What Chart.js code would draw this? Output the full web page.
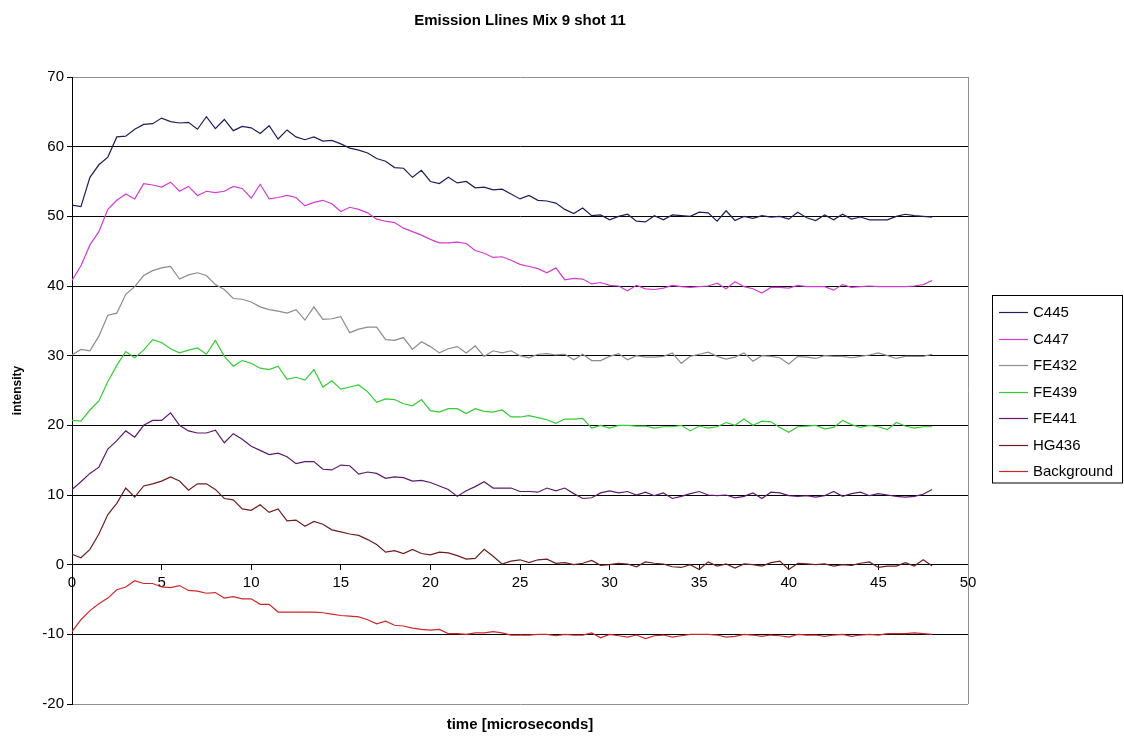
<!DOCTYPE html>
<html>
<head>
<meta charset="utf-8">
<title>Emission Llines Mix 9 shot 11</title>
<script src="https://cdn.jsdelivr.net/npm/chart.js@4.4.1/dist/chart.umd.min.js"></script>
<style>
  html, body { margin: 0; padding: 0; background: #fff; }
</style>
</head>
<body>
<canvas id="line-chart" width="1124" height="744"></canvas>
<script>
// time axis (microseconds)
const times = [
  0, 0.5, 1, 1.5, 2, 2.5, 3, 3.5, 4, 4.5,
  5, 5.5, 6, 6.5, 7, 7.5, 8, 8.5, 9, 9.5,
  10, 10.5, 11, 11.5, 12, 12.5, 13, 13.5, 14, 14.5,
  15, 15.5, 16, 16.5, 17, 17.5, 18, 18.5, 19, 19.5,
  20, 20.5, 21, 21.5, 22, 22.5, 23, 23.5, 24, 24.5,
  25, 25.5, 26, 26.5, 27, 27.5, 28, 28.5, 29, 29.5,
  30, 30.5, 31, 31.5, 32, 32.5, 33, 33.5, 34, 34.5,
  35, 35.5, 36, 36.5, 37, 37.5, 38, 38.5, 39, 39.5,
  40, 40.5, 41, 41.5, 42, 42.5, 43, 43.5, 44, 44.5,
  45, 45.5, 46, 46.5, 47, 47.5, 48
];

const c445 = [
  51.6, 51.4, 55.6, 57.4, 58.5, 61.4, 61.5, 62.5, 63.2, 63.3,
  64.1, 63.6, 63.4, 63.5, 62.5, 64.3, 62.6, 63.9, 62.3, 62.9,
  62.7, 61.9, 63.0, 61.1, 62.4, 61.4, 61.0, 61.4, 60.8, 60.9,
  60.4, 59.8, 59.5, 59.1, 58.3, 57.9, 57.0, 56.9, 55.6, 56.6,
  55.0, 54.7, 55.6, 54.8, 55.0, 54.1, 54.2, 53.8, 53.9, 53.2,
  52.5, 53.0, 52.3, 52.2, 51.9, 51.0, 50.4, 51.2, 50.1, 50.2,
  49.5, 50.0, 50.3, 49.3, 49.2, 50.1, 49.5, 50.2, 50.1, 50.0,
  50.6, 50.5, 49.3, 50.8, 49.4, 50.0, 49.7, 50.1, 49.9, 50.0,
  49.6, 50.6, 49.8, 49.4, 50.2, 49.5, 50.3, 49.6, 49.9, 49.5,
  49.5, 49.5, 50.0, 50.3, 50.1, 50.0, 49.9
];

const c447 = [
  40.8, 42.9, 45.9, 47.8, 51.0, 52.3, 53.2, 52.5, 54.7, 54.5,
  54.2, 54.9, 53.6, 54.3, 53.0, 53.6, 53.4, 53.6, 54.3, 54.0,
  52.6, 54.6, 52.5, 52.7, 53.0, 52.7, 51.5, 52.0, 52.3, 51.8,
  50.7, 51.3, 51.0, 50.5, 49.6, 49.3, 49.1, 48.3, 47.8, 47.3,
  46.7, 46.2, 46.2, 46.3, 46.1, 45.1, 44.7, 44.1, 44.2, 43.7,
  43.1, 42.8, 42.5, 41.9, 42.6, 40.9, 41.1, 41.0, 40.3, 40.5,
  40.1, 40.0, 39.3, 40.1, 39.6, 39.5, 39.7, 40.1, 39.9, 39.8,
  39.9, 40.0, 40.4, 39.6, 40.6, 39.9, 39.6, 39.0, 39.8, 39.8,
  39.7, 40.1, 39.9, 39.9, 39.9, 39.4, 40.2, 39.8, 39.9, 40.0,
  39.9, 39.9, 39.9, 39.9, 40.0, 40.2, 40.8
];

const fe432 = [
  30.1, 30.9, 30.7, 32.8, 35.8, 36.1, 38.8, 39.9, 41.5, 42.2,
  42.6, 42.8, 41.0, 41.6, 41.9, 41.5, 40.2, 39.5, 38.2, 38.1,
  37.7, 37.0, 36.6, 36.4, 36.1, 36.6, 35.1, 37.0, 35.2, 35.3,
  35.6, 33.3, 33.8, 34.1, 34.1, 32.3, 32.2, 32.6, 30.9, 32.0,
  31.3, 30.4, 31.0, 31.3, 30.4, 31.4, 29.9, 30.7, 30.4, 30.7,
  30.0, 29.7, 30.2, 30.3, 30.1, 30.2, 29.4, 30.2, 29.3, 29.3,
  29.9, 30.3, 29.4, 30.0, 29.8, 29.8, 29.9, 30.4, 28.9, 29.9,
  30.2, 30.5, 29.9, 29.5, 29.8, 30.4, 29.2, 30.0, 29.9, 29.7,
  28.8, 29.9, 29.8, 29.6, 30.0, 29.9, 29.9, 29.7, 29.9, 30.1,
  30.4, 30.0, 29.6, 29.9, 29.9, 29.9, 30.2
];

const fe439 = [
  20.7, 20.6, 22.2, 23.5, 26.3, 28.6, 30.6, 29.7, 30.8, 32.3,
  31.9, 31.0, 30.4, 30.8, 31.1, 30.2, 32.2, 29.9, 28.5, 29.3,
  28.9, 28.2, 28.0, 28.5, 26.6, 26.9, 26.5, 28.0, 25.5, 26.4,
  25.2, 25.5, 25.8, 24.8, 23.3, 23.8, 23.7, 23.1, 22.8, 23.7,
  22.1, 21.9, 22.4, 22.4, 21.7, 22.4, 22.0, 21.9, 22.2, 21.2,
  21.2, 21.4, 21.1, 20.8, 20.3, 20.9, 20.9, 21.0, 19.6, 20.0,
  19.6, 20.0, 20.0, 19.9, 19.9, 19.6, 19.8, 19.8, 20.0, 19.2,
  19.9, 19.6, 19.8, 20.4, 20.0, 20.9, 20.0, 20.6, 20.5, 19.7,
  19.0, 19.8, 19.9, 20.0, 19.5, 19.7, 20.7, 20.1, 19.7, 20.0,
  19.8, 19.4, 20.4, 19.9, 19.6, 19.8, 19.8
];

const fe441 = [
  10.8, 11.9, 13.1, 14.0, 16.6, 17.8, 19.2, 18.3, 20.0, 20.7,
  20.7, 21.8, 20.0, 19.2, 18.9, 18.9, 19.3, 17.5, 18.8, 18.0,
  17.0, 16.4, 15.8, 16.0, 15.5, 14.5, 14.8, 14.8, 13.7, 13.6,
  14.3, 14.2, 13.0, 13.3, 13.1, 12.4, 12.6, 12.5, 12.0, 12.1,
  11.8, 11.3, 10.8, 9.8, 10.6, 11.2, 11.9, 11.0, 11.0, 11.0,
  10.5, 10.5, 10.4, 11.0, 10.6, 11.0, 10.2, 9.5, 9.6, 10.3,
  10.6, 10.3, 10.5, 10.0, 10.4, 9.9, 10.3, 9.5, 9.8, 10.2,
  10.5, 10.0, 9.9, 10.0, 9.6, 9.8, 10.3, 9.5, 10.4, 10.3,
  9.9, 9.8, 9.9, 9.7, 9.9, 10.5, 9.8, 10.2, 10.4, 9.9,
  10.2, 10.0, 9.8, 9.7, 9.8, 10.1, 10.8
];

const hg436 = [
  1.5, 1.0, 2.2, 4.4, 7.2, 8.8, 11.0, 9.7, 11.3, 11.6,
  12.0, 12.6, 12.0, 10.7, 11.6, 11.6, 10.8, 9.5, 9.3, 8.0,
  7.8, 8.6, 7.5, 8.0, 6.3, 6.4, 5.5, 6.2, 5.8, 5.0,
  4.7, 4.4, 4.2, 3.6, 2.9, 1.8, 2.0, 1.6, 2.2, 1.6,
  1.4, 1.8, 1.7, 1.3, 0.8, 0.9, 2.2, 1.2, 0.1, 0.5,
  0.7, 0.3, 0.7, 0.8, 0.2, 0.3, 0.0, 0.2, 0.6, -0.1,
  0.0, 0.2, 0.1, -0.3, 0.4, 0.2, 0.1, -0.3, -0.4, 0.0,
  -0.7, 0.4, -0.2, 0.1, -0.5, 0.1, 0.0, -0.2, 0.3, 0.5,
  -0.7, 0.2, 0.1, 0.0, 0.1, -0.2, 0.0, -0.1, 0.2, 0.4,
  -0.4, -0.2, -0.2, 0.3, -0.2, 0.7, -0.2
];

const background = [
  -9.6, -7.9, -6.6, -5.6, -4.8, -3.6, -3.2, -2.3, -2.7, -2.7,
  -3.2, -3.3, -3.0, -3.7, -3.8, -4.1, -4.0, -4.8, -4.6, -4.9,
  -4.9, -5.7, -5.7, -6.8, -6.8, -6.8, -6.8, -6.8, -6.9, -7.1,
  -7.3, -7.4, -7.5, -7.9, -8.5, -8.1, -8.7, -8.8, -9.1, -9.3,
  -9.4, -9.3, -9.9, -9.9, -10.0, -9.8, -9.8, -9.6, -9.8, -10.1,
  -10.1, -10.1, -10.0, -10.0, -10.2, -10.0, -10.1, -10.1, -9.8, -10.5,
  -10.0, -10.2, -10.4, -10.1, -10.6, -10.2, -10.1, -10.4, -10.2, -10.0,
  -10.0, -10.0, -10.1, -10.4, -10.3, -10.0, -10.1, -10.3, -10.1, -10.2,
  -10.4, -10.0, -10.1, -10.1, -10.3, -10.1, -10.0, -10.3, -10.1, -10.0,
  -10.1, -9.9, -9.9, -9.9, -9.8, -9.9, -10.0
];

const seriesNames = ["C445", "C447", "FE432", "FE439", "FE441", "HG436", "Background"];
const seriesValues = [c445, c447, fe432, fe439, fe441, hg436, background];
const seriesColors = ["#1e1e5a", "#d23cd2", "#8c8c8c", "#33cc33", "#5c1a6e", "#6e1e1e", "#cc2828"];

const FONT = "'Liberation Sans', Arial, sans-serif";

// title, axis titles, right border and the boxed legend
const extras = {
  id: "extras",
  afterDraw(chart) {
    const { ctx, chartArea } = chart;
    const mid = (chartArea.left + chartArea.right) / 2;
    ctx.save();

    // plot border on the right
    ctx.strokeStyle = "#909090";
    ctx.lineWidth = 1;
    ctx.beginPath();
    ctx.moveTo(Math.round(chartArea.right) + 0.5, chartArea.top);
    ctx.lineTo(Math.round(chartArea.right) + 0.5, chartArea.bottom);
    ctx.stroke();

    ctx.fillStyle = "#000";
    ctx.textAlign = "center";
    ctx.textBaseline = "middle";
    ctx.font = "bold 15px " + FONT;
    ctx.fillText("Emission Llines Mix 9 shot 11", mid, 21);

    ctx.font = "bold 15px " + FONT;
    ctx.fillText("time [microseconds]", mid, 725);

    ctx.font = "bold 12px " + FONT;
    ctx.translate(18, (chartArea.top + chartArea.bottom) / 2);
    ctx.rotate(-Math.PI / 2);
    ctx.fillText("intensity", 0, 0);
    ctx.restore();

    // legend
    ctx.save();
    const lx = chartArea.right + 24;
    const ly = 295;
    const lw = 130;
    const rowH = 26.5;
    ctx.strokeStyle = "#000";
    ctx.lineWidth = 1;
    ctx.strokeRect(lx + 0.5, ly + 0.5, lw, rowH * seriesNames.length + 2);
    ctx.font = "15px " + FONT;
    ctx.textAlign = "left";
    ctx.textBaseline = "middle";
    chart.data.datasets.forEach((ds, i) => {
      const y = Math.round(ly + 17 + i * rowH) + 0.5;
      ctx.strokeStyle = ds.borderColor;
      ctx.lineWidth = 1.2;
      ctx.beginPath();
      ctx.moveTo(lx + 7, y);
      ctx.lineTo(lx + 36, y);
      ctx.stroke();
      ctx.fillStyle = "#000";
      ctx.fillText(ds.label, lx + 41, y);
    });
    ctx.restore();
  },
};

new Chart(document.getElementById("line-chart"), {
  type: "line",
  data: {
    datasets: seriesNames.map((name, i) => ({
      label: name,
      data: times.map((t, j) => ({ x: t, y: seriesValues[i][j] })),
      borderColor: seriesColors[i],
      backgroundColor: seriesColors[i],
      borderWidth: 1.2,
      pointRadius: 0,
      tension: 0,
      fill: false,
    })),
  },
  options: {
    responsive: false,
    animation: false,
    devicePixelRatio: 1,
    layout: {
      padding: { left: 32, right: 156, top: 77, bottom: 40 },
    },
    plugins: {
      legend: { display: false },
      title: { display: false },
      tooltip: { enabled: false },
    },
    scales: {
      x: {
        type: "linear",
        position: { y: 0 },
        min: 0,
        max: 50,
        ticks: { stepSize: 5, color: "#000", font: { size: 15, family: FONT }, padding: 4, maxRotation: 0 },
        grid: { drawOnChartArea: false, drawTicks: true, tickLength: 5, tickColor: "#000" },
        border: { display: true, color: "#000", width: 1 },
      },
      y: {
        min: -20,
        max: 70,
        afterFit: (scale) => { scale.width = 40; },
        ticks: { stepSize: 10, color: "#000", font: { size: 15, family: FONT }, padding: 3 },
        grid: {
          color: (c) => (c.tick && (c.tick.value === 70 || c.tick.value === -20) ? "#909090" : "#000"),
          tickColor: "#000",
          tickLength: 5,
        },
        border: { display: true, color: "#000", width: 1 },
      },
    },
  },
  plugins: [extras],
});
</script>
</body>
</html>
